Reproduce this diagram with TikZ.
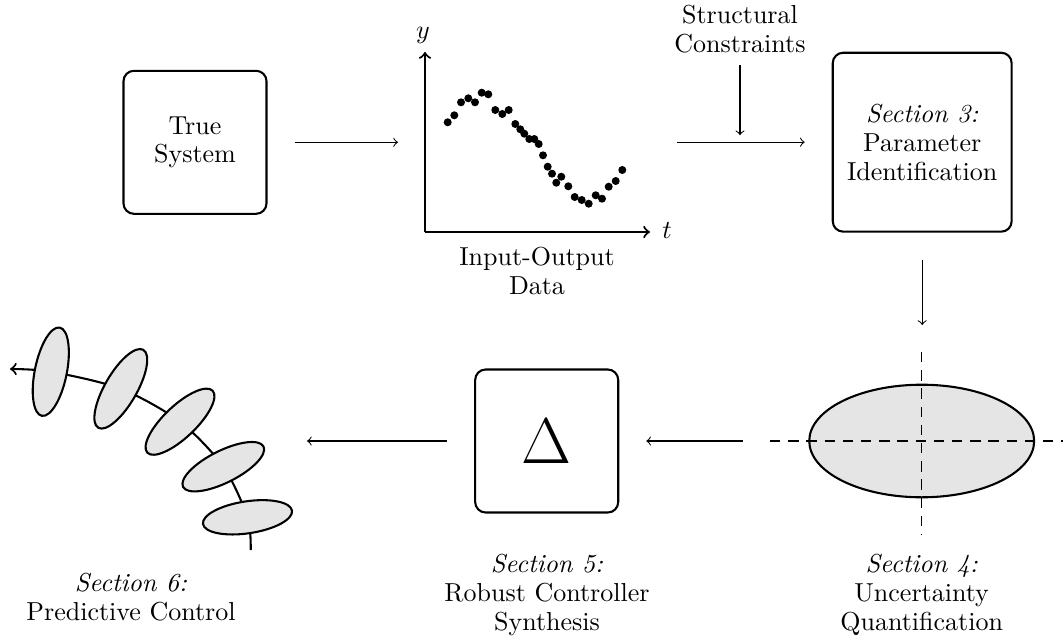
\documentclass[tikz,border=0pt]{standalone}
\usetikzlibrary{shapes.geometric}
\newcommand\mytxt{\fontsize{10}{11.1}\selectfont}
\begin{document}
\begin{tikzpicture}[x=0.3846pt,y=-0.3846pt,
  box/.style={draw,thick,rounded corners=4pt,align=center,font=\mytxt,inner sep=0pt,minimum size=55pt},
  lbl/.style={align=center,font=\mytxt,inner sep=0pt},
  arr/.style={->,shorten <=10.4pt,shorten >=10.4pt},
  axis/.style={thick,->},
  datadot/.style={fill=black},
  blob/.style={draw,thick,fill=gray!20},
  guide/.style={dash pattern=on 4pt off 3pt}]
\useasboundingbox (0,0) rectangle (1063,636);

% top row
\node[box] (ts) at (195,142.3) {True\\System};
\coordinate (O) at (425,232);
\coordinate (ytip) at (425,52);
\coordinate (ttip) at (650,232);
\draw[axis] (O) -- (ytip);
\draw[axis] (O) -- (ttip);
\node[inner sep=0pt] (ylab) at (423,35) {$y$};
\node[inner sep=0pt] (tlab) at (667,231) {$t$};
\foreach \p in {(447.7,122.3),(454.3,115.3),(461,102.3),(468.3,98.3),(475,102.3),
  (481.7,92.7),(488.3,94.3),(495.3,110),(502.3,114),(508.7,110),(515.3,124),
  (520.3,129.3),(524.3,133.7),(529.3,139),(534.3,139),(538.7,144),(543,155.3),
  (547.7,166.7),(552,173.7),(561.3,176.7),(556.3,182.7),(568.3,186.3),(574.7,197),
  (581.7,200),(588.7,203.7),(595.7,195.3),(602,198.7),(608.7,186.7),(615.7,181),
  (622.3,170)}
  \fill[datadot] \p circle (4);
\node[lbl] (io) at (537,271) {Input-Output\\Data};
\node[lbl] (sc) at (740,28.7) {Structural\\Constraints};
\node[box,minimum size=68.8pt] (pi) at (922.2,142.2) {\textit{Section 3:}\\Parameter\\Identification};

\draw[arr] (ts.east) -- (ts.east -| O);
\draw[arr] (ttip |- pi.west) -- (pi.west);
\draw[->,shorten <=4.7pt,shorten >=2.7pt] (sc.south) -- (sc.south |- pi.west);

% uncertainty ellipse
\node[ellipse,blob,minimum width=86.5pt,minimum height=43.3pt,inner sep=0pt] (uq) at (921.7,441) {};
\coordinate (vtop) at (921.7,352);
\coordinate (vbot) at (921.7,535);
\coordinate (hl) at (770,441);
\coordinate (hr) at (1063,441);
\draw[guide] (hl) -- (hr);
\draw[guide] (vtop) -- (vbot);
\draw[arr] (pi.south) -- (pi.south |- vtop);
\node[lbl] (s4) at (921.7,595) {\textit{Section 4:}\\Uncertainty\\Quantification};

% robust controller
\node[box] (delta) at (546.7,441) {\Huge$\Delta$};
\draw[arr] (hl) -- (delta.east);
\node[lbl] (s5) at (547,595) {\textit{Section 5:}\\Robust Controller\\Synthesis};

% predictive control tube
\coordinate (tubeR) at (280,441);
\draw[arr] (delta.west) -- (tubeR);
\draw[thick,->] plot[smooth] coordinates {(250.7,550) (247.5,517.3) (223.3,466.7) (180,421.7) (120.8,388.8) (50.8,371.7) (10,369)};
\foreach \c/\a in {{(50.8,371.7)}/78.5,{(120.8,388.8)}/60,{(180,421.7)}/43.5,{(223.3,466.7)}/26.6,{(247.5,517.3)}/8.5}
  \filldraw[blob,shift={\c},rotate=\a] (0,0) ellipse (45 and 16);
\node[lbl] (s6) at (131,597) {\textit{Section 6:}\\Predictive Control};
\end{tikzpicture}
\end{document}
